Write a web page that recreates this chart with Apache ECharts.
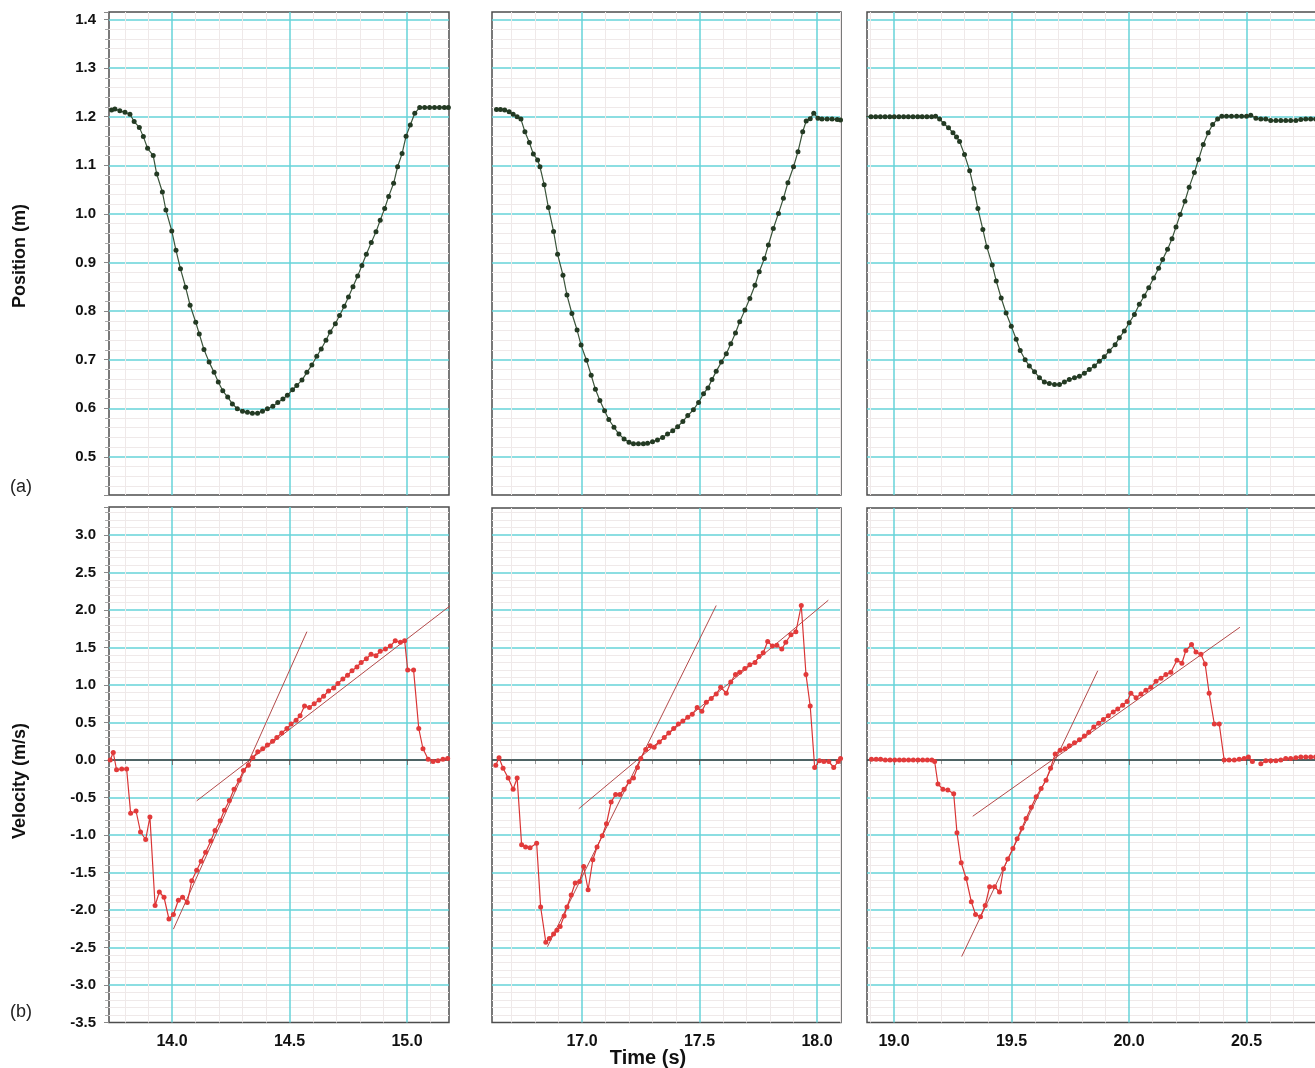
<!DOCTYPE html>
<html><head><meta charset="utf-8">
<script src="https://cdn.jsdelivr.net/npm/echarts@6/dist/echarts.min.js"></script>
<style>html,body{margin:0;padding:0;background:#fff}#c{width:1315px;height:1068px}</style>
</head><body><div id="c"></div>
<script>
// ---- Data ----
const xTickLabels = ['14.0','14.5','15.0','17.0','17.5','18.0','19.0','19.5','20.0','20.5'];

const p1T = [13.743,13.757,13.778,13.800,13.821,13.839,13.861,13.878,13.896,13.920,13.935,13.959,13.974,13.999,14.017,14.036,14.058,14.077,14.101,14.116,14.136,14.158,14.179,14.197,14.216,14.237,14.257,14.278,14.300,14.321,14.342,14.364,14.385,14.406,14.429,14.450,14.472,14.491,14.513,14.531,14.553,14.574,14.595,14.616,14.635,14.655,14.673,14.695,14.713,14.733,14.751,14.770,14.790,14.808,14.827,14.848,14.868,14.886,14.905,14.922,14.943,14.960,14.979,14.996,15.014,15.033,15.054,15.075,15.096,15.117,15.138,15.159,15.176];
const p1Y = [1.214,1.216,1.212,1.209,1.205,1.190,1.178,1.159,1.135,1.120,1.082,1.045,1.008,0.965,0.925,0.887,0.849,0.812,0.777,0.753,0.721,0.695,0.674,0.654,0.636,0.623,0.609,0.599,0.594,0.592,0.590,0.590,0.594,0.599,0.604,0.612,0.619,0.627,0.638,0.647,0.658,0.674,0.689,0.707,0.722,0.740,0.757,0.774,0.791,0.810,0.829,0.850,0.872,0.894,0.917,0.941,0.963,0.987,1.011,1.036,1.063,1.097,1.124,1.160,1.183,1.207,1.219,1.219,1.219,1.219,1.219,1.219,1.219];

const v1T = [13.737,13.750,13.764,13.786,13.807,13.824,13.847,13.866,13.888,13.906,13.928,13.946,13.966,13.987,14.006,14.027,14.045,14.065,14.084,14.105,14.124,14.143,14.165,14.183,14.205,14.223,14.244,14.264,14.286,14.304,14.325,14.344,14.365,14.386,14.406,14.428,14.446,14.467,14.489,14.507,14.528,14.545,14.564,14.585,14.605,14.626,14.645,14.666,14.688,14.706,14.727,14.747,14.766,14.787,14.805,14.827,14.847,14.868,14.886,14.908,14.929,14.950,14.972,14.990,15.003,15.028,15.050,15.068,15.090,15.111,15.132,15.153,15.173];
const v1Y = [0.00,0.10,-0.13,-0.12,-0.12,-0.71,-0.68,-0.96,-1.06,-0.76,-1.94,-1.76,-1.83,-2.12,-2.06,-1.87,-1.83,-1.90,-1.61,-1.47,-1.35,-1.23,-1.08,-0.94,-0.81,-0.67,-0.54,-0.39,-0.27,-0.14,-0.07,0.03,0.11,0.15,0.20,0.25,0.30,0.36,0.42,0.48,0.53,0.59,0.72,0.70,0.75,0.80,0.85,0.92,0.96,1.02,1.08,1.13,1.19,1.24,1.30,1.35,1.41,1.39,1.45,1.48,1.52,1.59,1.57,1.59,1.20,1.20,0.42,0.15,0.01,-0.02,-0.01,0.01,0.02];

const p2T = [16.636,16.653,16.671,16.690,16.707,16.724,16.740,16.757,16.776,16.793,16.811,16.821,16.839,16.857,16.879,16.896,16.919,16.936,16.957,16.979,16.996,17.019,17.039,17.057,17.076,17.096,17.114,17.136,17.157,17.179,17.200,17.219,17.240,17.261,17.279,17.300,17.321,17.343,17.364,17.386,17.407,17.429,17.450,17.474,17.496,17.517,17.536,17.553,17.571,17.593,17.614,17.633,17.653,17.671,17.693,17.714,17.736,17.754,17.776,17.793,17.814,17.836,17.857,17.876,17.900,17.919,17.939,17.954,17.971,17.986,18.004,18.021,18.043,18.064,18.086,18.100];
const p2Y = [1.215,1.215,1.214,1.210,1.205,1.200,1.195,1.169,1.147,1.123,1.111,1.097,1.060,1.013,0.964,0.917,0.874,0.833,0.795,0.761,0.730,0.699,0.668,0.639,0.616,0.595,0.577,0.561,0.547,0.537,0.530,0.527,0.527,0.527,0.528,0.531,0.535,0.540,0.547,0.554,0.562,0.573,0.585,0.597,0.612,0.630,0.642,0.659,0.676,0.695,0.712,0.733,0.755,0.778,0.802,0.826,0.853,0.881,0.908,0.936,0.970,1.001,1.032,1.064,1.097,1.128,1.169,1.191,1.196,1.207,1.197,1.195,1.195,1.195,1.194,1.193];

const v2T = [16.633,16.647,16.664,16.686,16.707,16.724,16.743,16.760,16.779,16.807,16.824,16.846,16.861,16.879,16.893,16.907,16.924,16.936,16.954,16.971,16.990,17.007,17.026,17.046,17.064,17.086,17.104,17.124,17.143,17.161,17.179,17.200,17.219,17.236,17.250,17.271,17.290,17.307,17.329,17.350,17.369,17.390,17.410,17.429,17.450,17.469,17.490,17.510,17.529,17.550,17.571,17.590,17.614,17.633,17.653,17.671,17.693,17.714,17.736,17.753,17.771,17.790,17.810,17.829,17.850,17.867,17.889,17.910,17.933,17.953,17.971,17.990,18.010,18.029,18.050,18.071,18.090,18.100];
const v2Y = [-0.07,0.03,-0.11,-0.24,-0.39,-0.24,-1.13,-1.16,-1.17,-1.11,-1.96,-2.43,-2.38,-2.32,-2.27,-2.22,-2.08,-1.96,-1.80,-1.64,-1.62,-1.42,-1.73,-1.33,-1.16,-1.01,-0.85,-0.56,-0.46,-0.46,-0.39,-0.29,-0.24,-0.10,0.02,0.14,0.19,0.17,0.24,0.30,0.36,0.42,0.48,0.52,0.57,0.61,0.70,0.65,0.77,0.82,0.88,0.97,0.89,1.04,1.14,1.17,1.22,1.27,1.30,1.38,1.43,1.58,1.52,1.53,1.48,1.57,1.67,1.71,2.06,1.14,0.72,-0.10,-0.01,-0.02,-0.02,-0.10,-0.02,0.02];

const p3T = [18.882,18.902,18.922,18.942,18.962,18.982,19.001,19.021,19.041,19.061,19.081,19.101,19.120,19.140,19.160,19.177,19.194,19.212,19.232,19.251,19.266,19.279,19.300,19.322,19.340,19.357,19.378,19.395,19.418,19.435,19.456,19.477,19.499,19.520,19.537,19.558,19.576,19.598,19.619,19.640,19.661,19.683,19.704,19.725,19.746,19.768,19.789,19.810,19.831,19.853,19.874,19.895,19.916,19.941,19.959,19.980,20.001,20.023,20.044,20.065,20.084,20.105,20.126,20.143,20.164,20.183,20.200,20.218,20.238,20.256,20.278,20.296,20.316,20.337,20.356,20.377,20.395,20.415,20.436,20.458,20.479,20.500,20.518,20.540,20.561,20.582,20.603,20.625,20.646,20.667,20.688,20.710,20.731,20.752,20.773,20.794];
const p3Y = [1.200,1.200,1.200,1.200,1.200,1.200,1.200,1.200,1.200,1.200,1.200,1.200,1.200,1.200,1.200,1.201,1.195,1.186,1.177,1.167,1.158,1.149,1.122,1.089,1.052,1.011,0.968,0.932,0.895,0.862,0.827,0.796,0.769,0.742,0.719,0.700,0.687,0.675,0.663,0.654,0.651,0.649,0.649,0.654,0.659,0.663,0.666,0.672,0.680,0.687,0.697,0.706,0.718,0.731,0.745,0.759,0.776,0.793,0.814,0.831,0.848,0.868,0.888,0.906,0.927,0.949,0.973,0.999,1.026,1.055,1.085,1.112,1.143,1.167,1.184,1.195,1.201,1.201,1.201,1.201,1.201,1.201,1.203,1.197,1.195,1.195,1.192,1.192,1.192,1.192,1.192,1.192,1.194,1.195,1.195,1.195];

const v3T = [18.904,18.924,18.943,18.963,18.983,19.003,19.023,19.042,19.062,19.082,19.102,19.122,19.142,19.161,19.173,19.187,19.208,19.229,19.254,19.268,19.286,19.307,19.329,19.347,19.368,19.388,19.407,19.428,19.449,19.466,19.484,19.506,19.524,19.544,19.562,19.584,19.605,19.626,19.647,19.666,19.686,19.707,19.728,19.746,19.768,19.789,19.810,19.829,19.850,19.871,19.891,19.912,19.933,19.952,19.973,19.992,20.008,20.030,20.051,20.072,20.093,20.115,20.136,20.157,20.178,20.204,20.225,20.242,20.266,20.285,20.306,20.324,20.341,20.363,20.384,20.405,20.426,20.448,20.469,20.490,20.508,20.525,20.543,20.561,20.582,20.603,20.625,20.646,20.667,20.688,20.710,20.731,20.752,20.773,20.794];
const v3Y = [0.01,0.01,0.01,0.00,0.00,0.00,0.00,0.00,0.00,0.00,0.00,0.00,0.00,0.00,-0.02,-0.32,-0.39,-0.40,-0.45,-0.97,-1.37,-1.58,-1.89,-2.06,-2.09,-1.94,-1.69,-1.69,-1.76,-1.45,-1.32,-1.18,-1.05,-0.91,-0.78,-0.63,-0.49,-0.38,-0.27,-0.11,0.08,0.13,0.15,0.19,0.23,0.27,0.32,0.37,0.44,0.49,0.54,0.59,0.64,0.68,0.73,0.78,0.89,0.83,0.88,0.93,0.97,1.05,1.09,1.14,1.17,1.33,1.29,1.46,1.54,1.44,1.41,1.28,0.89,0.48,0.48,0.00,0.00,0.00,0.01,0.02,0.04,-0.02,null,-0.05,-0.01,-0.01,-0.01,0.00,0.02,0.02,0.03,0.04,0.04,0.04,0.04];

// tangent (fit) lines: end points
const tanSteep1T = [14.006, 14.574], tanSteep1Y = [-2.255, 1.711];
const tanFlat1T  = [14.105, 15.185], tanFlat1Y  = [-0.545, 2.06];
const tanSteep2T = [16.853, 17.571], tanSteep2Y = [-2.49, 2.06];
const tanFlat2T  = [16.986, 18.048], tanFlat2Y  = [-0.65, 2.13];
const tanSteep3T = [19.288, 19.867], tanSteep3Y = [-2.62, 1.19];
const tanFlat3T  = [19.335, 20.472], tanFlat3Y  = [-0.75, 1.77];

// ---- Chart ----
const zip = (a, b) => a.map((t, i) => [t, b[i] == null ? '-' : b[i]]);
const FONT = "'Liberation Sans', Arial, sans-serif";
const CYAN = '#66d3d8';
const MINOR = '#efe9e9';
const BORDER = '#4d4d4d';

const cols = [
  {left: 109, width: 340, xmin: 13.7319, xmax: 15.1787, vtop: 507},
  {left: 492, width: 349, xmin: 16.617,  xmax: 18.102,  vtop: 508},
  {left: 867, width: 452, xmin: 18.8851, xmax: 20.8085, vtop: 508}
];
const posTop = 12, posH = 483, posMin = 0.4216, posMax = 1.4154;
const velBottom = 1022.5, velMin = -3.5, pxPerVel = 75;

const isMult = (v, s) => Math.abs(v / s - Math.round(v / s)) < 1e-6;
const labelStyle = (size) => ({fontFamily: FONT, fontWeight: 'bold', fontSize: size, color: '#111'});

const grids = [], xAxes = [], yAxes = [];
cols.forEach((c) => {
  grids.push({left: c.left, top: posTop, width: c.width, height: posH, show: true,
    borderColor: BORDER, borderWidth: 1.5, backgroundColor: '#fff', containLabel: false, outerBoundsMode: 'none'});
});
cols.forEach((c) => {
  grids.push({left: c.left, top: c.vtop, width: c.width, height: velBottom - c.vtop, show: true,
    borderColor: BORDER, borderWidth: 1.5, backgroundColor: '#fff', containLabel: false, outerBoundsMode: 'none'});
});

for (let g = 0; g < 6; g++) {
  const c = cols[g % 3];
  const bottomRow = g >= 3;
  xAxes.push({
    type: 'value', gridIndex: g, min: c.xmin, max: c.xmax,
    minInterval: 0.5, maxInterval: 0.5,
    axisLine: {show: false},
    axisTick: {show: bottomRow, length: 5, lineStyle: {color: '#777'}},
    minorTick: {show: bottomRow, splitNumber: 5, length: 4, lineStyle: {color: '#999'}},
    axisLabel: Object.assign({show: bottomRow, margin: 11,
      formatter: v => isMult(v, 0.5) ? v.toFixed(1) : ''}, labelStyle(16)),
    splitLine: {show: true, showMinLine: false, showMaxLine: false, lineStyle: {color: CYAN, width: 1.5}},
    minorSplitLine: {show: true, lineStyle: {color: MINOR, width: 1}}
  });
  const first = (g % 3) === 0;
  if (!bottomRow) {
    yAxes.push({
      type: 'value', gridIndex: g, min: posMin, max: posMax,
      minInterval: 0.1, maxInterval: 0.1,
      axisLine: {show: false},
      axisTick: {show: first, length: 5, lineStyle: {color: '#888'}},
      minorTick: {show: first, splitNumber: 5, length: 4, lineStyle: {color: '#aaa'}},
      axisLabel: Object.assign({show: first, margin: 13, padding: [3, 0, 0, 0],
        formatter: v => isMult(v, 0.1) ? v.toFixed(1) : ''}, labelStyle(15)),
      splitLine: {show: true, showMinLine: false, showMaxLine: false, lineStyle: {color: CYAN, width: 1.5}},
      minorSplitLine: {show: true, lineStyle: {color: MINOR, width: 1}}
    });
  } else {
    const h = velBottom - c.vtop;
    yAxes.push({
      type: 'value', gridIndex: g, min: velMin, max: velMin + h / pxPerVel,
      minInterval: 0.5, maxInterval: 0.5,
      axisLine: {show: false},
      axisTick: {show: first, length: 5, lineStyle: {color: '#888'}},
      minorTick: {show: first, splitNumber: 5, length: 4, lineStyle: {color: '#aaa'}},
      axisLabel: Object.assign({show: first, margin: 13, padding: [3, 0, 0, 0],
        formatter: v => isMult(v, 0.5) ? v.toFixed(1) : ''}, labelStyle(15)),
      splitLine: {show: true, showMinLine: false, showMaxLine: false, lineStyle: {color: CYAN, width: 1.5}},
      minorSplitLine: {show: true, lineStyle: {color: MINOR, width: 1}}
    });
  }
}

const posSets = [[p1T, p1Y], [p2T, p2Y], [p3T, p3Y]];
const velSets = [[v1T, v1Y], [v2T, v2Y], [v3T, v3Y]];
const tanSets = [
  [[tanSteep1T, tanSteep1Y], [tanFlat1T, tanFlat1Y]],
  [[tanSteep2T, tanSteep2Y], [tanFlat2T, tanFlat2Y]],
  [[tanSteep3T, tanSteep3Y], [tanFlat3T, tanFlat3Y]]
];

const series = [];
posSets.forEach((s, i) => {
  series.push({
    type: 'line', xAxisIndex: i, yAxisIndex: i, data: zip(s[0], s[1]),
    symbol: 'circle', symbolSize: 5, showAllSymbol: true, silent: true,
    lineStyle: {color: '#3b553b', width: 1.2}, itemStyle: {color: '#233a23'}, z: 5
  });
});
velSets.forEach((s, i) => {
  series.push({
    type: 'line', xAxisIndex: i + 3, yAxisIndex: i + 3, data: [],
    silent: true, z: 3,
    markLine: {silent: true, symbol: ['none', 'none'], label: {show: false},
      lineStyle: {color: '#3a3a3a', width: 1.5, type: 'solid'}, data: [{yAxis: 0}]}
  });
  tanSets[i].forEach(t => {
    series.push({
      type: 'line', xAxisIndex: i + 3, yAxisIndex: i + 3, data: zip(t[0], t[1]),
      showSymbol: false, silent: true, z: 4,
      lineStyle: {color: '#b34a4a', width: 1}
    });
  });
  series.push({
    type: 'line', xAxisIndex: i + 3, yAxisIndex: i + 3, data: zip(s[0], s[1]),
    symbol: 'circle', symbolSize: 5, showAllSymbol: true, silent: true, connectNulls: false,
    lineStyle: {color: '#d93535', width: 1.2}, itemStyle: {color: '#e23a3a'}, z: 5
  });
});

const chart = echarts.init(document.getElementById('c'));
chart.setOption({
  animation: false,
  backgroundColor: '#fff',
  grid: grids, xAxis: xAxes, yAxis: yAxes, series: series,
  graphic: [
    {type: 'text', x: 20, y: 256, rotation: Math.PI / 2,
      style: {text: 'Position (m)', fontFamily: FONT, fontWeight: 'bold', fontSize: 18, fill: '#111', align: 'center', verticalAlign: 'middle'}},
    {type: 'text', x: 20, y: 781, rotation: Math.PI / 2,
      style: {text: 'Velocity (m/s)', fontFamily: FONT, fontWeight: 'bold', fontSize: 18, fill: '#111', align: 'center', verticalAlign: 'middle'}},
    {type: 'text', x: 10, y: 487,
      style: {text: '(a)', fontFamily: FONT, fontSize: 18, fill: '#222', align: 'left', verticalAlign: 'middle'}},
    {type: 'text', x: 10, y: 1012,
      style: {text: '(b)', fontFamily: FONT, fontSize: 18, fill: '#222', align: 'left', verticalAlign: 'middle'}},
    {type: 'text', x: 648, y: 1058,
      style: {text: 'Time (s)', fontFamily: FONT, fontWeight: 'bold', fontSize: 20, fill: '#111', align: 'center', verticalAlign: 'middle'}}
  ]
});
</script></body></html>
